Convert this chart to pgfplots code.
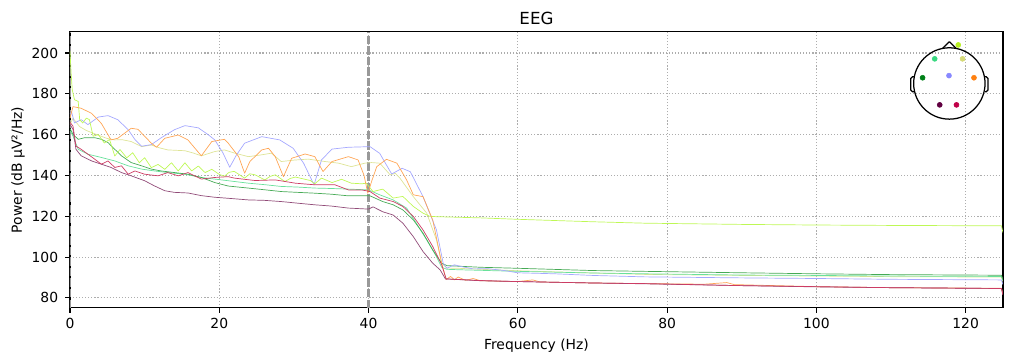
\documentclass[border=0pt]{standalone}
\usepackage{pgfplots}
\pgfplotsset{compat=1.18}
\usepackage{fontspec}
\setmainfont{DejaVu Sans}

\definecolor{cLime}{RGB}{190,248,85}
\definecolor{cKhaki}{RGB}{222,228,150}
\definecolor{cMint}{RGB}{105,225,155}
\definecolor{cGreen}{RGB}{70,170,85}
\definecolor{cBlue}{RGB}{165,168,255}
\definecolor{cOrange}{RGB}{255,165,85}
\definecolor{cPurple}{RGB}{145,75,120}
\definecolor{cRed}{RGB}{205,60,100}
\definecolor{dLime}{RGB}{184,240,32}
\definecolor{dKhaki}{RGB}{214,218,120}
\definecolor{dMint}{RGB}{56,216,128}
\definecolor{dGreen}{RGB}{0,128,24}
\definecolor{dBlue}{RGB}{136,136,255}
\definecolor{dOrange}{RGB}{255,128,16}
\definecolor{dPurple}{RGB}{96,0,64}
\definecolor{dRed}{RGB}{192,0,72}

\begin{document}
\begin{tikzpicture}
\path[use as bounding box] (-50.4pt,-38.2pt) rectangle (677.6pt,221.7pt);
\begin{axis}[
  at={(0pt,0pt)}, anchor=south west,
  scale only axis, width=671.8pt, height=198.7pt,
  xmin=0, xmax=125, ymin=75.1, ymax=210.3,
  xtick={0,20,...,120}, ytick={80,100,...,200},
  xtick pos=bottom, ytick pos=left,
  tick align=outside, major tick length=3.5pt,
  tick style={black, line width=0.8pt},
  axis line style={line width=0.8pt},
  grid=major,
  grid style={color=black!32, line width=0.8pt, dash pattern=on 0.8pt off 1.4pt},
  /pgf/number format/assume math mode=true,
  tick label style={font=\fontsize{10}{12}\selectfont},
  xticklabel style={yshift=-0.5pt},
  yticklabel style={xshift=-1.5pt},
  title={EEG},
  title style={at={(axis description cs:0.5,1)}, anchor=center, yshift=4pt, font=\fontsize{12}{14}\selectfont},
  xlabel={Frequency (Hz)},
  xlabel style={at={(axis description cs:0.5,0)}, anchor=center, yshift=-27.5pt, font=\fontsize{10}{12}\selectfont},
  ylabel={Power (dB µV²/Hz)},
  ylabel style={at={(axis description cs:-0.0557,0.5)}, anchor=center, font=\fontsize{10}{12}\selectfont},
  no markers,
  every axis plot/.append style={line width=0.5pt, line join=round},
]
% filter lines
\addplot[black!40, line width=1.6pt, dash pattern=on 6pt off 1.6pt, forget plot] coordinates {(0,75.1) (0,210.3)};
\addplot[black!40, line width=1.6pt, dash pattern=on 6pt off 1.6pt, forget plot] coordinates {(40,75.1) (40,210.3)};

% khaki
\addplot[cKhaki] coordinates {(0,165)(0.4,168)(1.3,163.9)(2.2,162)(3.1,160.7)(4.9,158.2)(6,157.4)(7,157.5)(8.2,156.6)(9.6,154.1)(10.9,154.9)(12,153.5)(13.1,152.5)(15.4,152.1)(16.5,151)(17.6,149.6)(19.4,151.7)(20.7,152.5)(22,151)(23.9,149.2)(25.5,150)(27,150.9)(28.3,146.8)(30,147.5)(31.9,148)(34.2,146.8)(36,146)(37.7,144.3)(39.5,146)(40.4,146.3)(41.5,146)(42.9,140.3)(43.6,141)(44.2,138.7)(46,129.6)(47.8,121.5)(49.1,108.4)(49.8,97)(50.5,94.6)(52,94.5)(55,94)(60,93.3)(70,92.2)(77,91.5)(90,91)(100,90.7)(110,90.4)(124.8,90.2)(125,88)};
% mint
\addplot[cMint] coordinates {(0,162)(0.4,159.3)(1.1,152.8)(2.4,150.4)(4.2,148.8)(6,147.1)(7.8,144.7)(9.6,143.1)(11.3,142.2)(13.1,141.4)(15.4,140.6)(17.6,139)(19.4,138.2)(21.2,137.4)(23.9,136.2)(26,135.5)(28.3,134.6)(30.5,134.3)(32.8,133.8)(35,133.6)(37.3,133.3)(40,132.9)(41.5,130.5)(43.3,128)(45.1,124)(46.4,116.6)(47.8,108.4)(49.1,100.2)(49.8,95)(50.5,94)(52,93.8)(55,93.5)(60,93)(70,92.2)(77,91.8)(90,91.2)(100,91)(110,90.7)(124.8,90.5)(125,88.5)};
% dark green
\addplot[cGreen] coordinates {(0,163)(0.4,160.1)(1.1,157.7)(2,158.5)(3.3,158.5)(4.2,157.7)(5.1,156.1)(6,152.8)(6.9,149.6)(8.2,146.3)(9.6,144.7)(10.9,143.1)(12.2,142.2)(14,141.4)(15.8,140.6)(17.6,139)(19.4,136.5)(21.2,134.8)(23.9,133.8)(26,133)(28.3,132.1)(30.5,131.7)(32.8,131.3)(35,130.8)(37.3,130)(40.2,130)(41.9,127.2)(43.3,125.6)(44.6,123.1)(46,118.2)(47.3,111.7)(48.6,103.5)(49.8,97)(50.5,95.8)(55,95)(60,94.5)(70,93.4)(77,93)(90,92.3)(100,91.8)(110,91.4)(124.8,91.1)(125,89)};
% blue
\addplot[cBlue] coordinates {(0,170)(0.2,171.3)(0.6,165.7)(1.5,167.3)(2.4,164.9)(3.8,168.6)(5.1,169.3)(6.4,167.3)(7.8,162.4)(8.7,157.6)(9.6,154.3)(10.9,155.1)(12.2,158.4)(14,162.4)(15.4,164.4)(17.2,163.3)(18.5,160)(19.4,157.4)(20.5,151)(21.4,144)(22.3,150)(23.4,155.8)(25.7,159)(28.1,157.4)(29.9,153.3)(31.3,146)(32.7,135.4)(33.7,147.6)(35.1,152.9)(37.3,153.8)(40.2,154.1)(41.5,150.8)(43.1,140.7)(44.5,143.5)(45.6,141.8)(47.3,129.6)(49.1,113.3)(50,97)(50.5,94.5)(51.5,96.2)(52.5,95.3)(54,94.2)(56,94.3)(58,93.5)(60,92.3)(65,91.8)(70,91)(77,90.3)(90,89.8)(100,89.5)(110,89.1)(124.8,88.8)(125,86.5)};
% lime
\addplot[cLime] coordinates {(0,201)(0.15,190)(0.3,182)(0.6,177.1)(1.1,176.3)(1.3,167.3)(1.7,165.7)(2.2,168.1)(2.6,167.3)(3.1,159.2)(3.8,160)(4.6,155.9)(5.3,157.6)(6,149.5)(6.7,152.7)(7.6,148.6)(8.4,151.1)(9.3,146.2)(10,148.7)(10.9,143.8)(11.8,145.4)(12.7,143)(13.6,146.2)(14.5,142.2)(15.4,146.2)(16.3,142.2)(17.2,144.6)(18.1,141.4)(19,143)(20,140.5)(20.7,139.6)(21.3,141.5)(22,142)(23.4,138.7)(24.1,140.8)(24.8,140.3)(26.1,137.8)(26.8,139.5)(27.5,140.3)(28.8,137)(29.5,138.5)(30.2,139.2)(31.5,138.1)(32.2,137.5)(32.8,135.9)(33.7,138.7)(35.1,136.5)(36.4,138.1)(37.7,136.2)(39.1,135.9)(39.7,136.2)(40.6,132.1)(41.9,133.3)(43.3,128.9)(44.6,129.7)(46,124.8)(47.3,121.5)(48.2,120)(49,119.8)(50,119.7)(55,119.2)(60,118.5)(70,117.3)(77,116.6)(90,116)(100,115.7)(110,115.5)(124.8,115.3)(125,112)};
% orange
\addplot[cOrange] coordinates {(0,168)(0.4,173.7)(1.5,172.9)(2.9,170.4)(4.2,165.5)(5.5,157.4)(6.4,158.2)(8.2,163.1)(9.1,162.6)(10.9,155.8)(11.6,153.8)(12.7,158.2)(14.5,159.8)(15.8,157.4)(17.6,149.6)(19,156.6)(20.7,157.7)(21.2,155.8)(22.6,149.2)(23.4,141.1)(24.1,146.8)(25.7,152.5)(26.6,153.3)(27.5,149.2)(28.6,139.4)(29.7,148.4)(31.5,150.5)(32.8,149.2)(33.9,141.9)(35.1,146.8)(37.3,149.2)(38.6,147.6)(39.4,140)(39.9,131.3)(40.5,138)(41.1,144.3)(42.4,147.9)(43.8,146)(45.1,137.8)(46,130.5)(47.3,129.6)(48.6,118.2)(49.8,97)(50.4,89)(51,90.5)(51.5,88.8)(52,90.2)(53,88.6)(54,89.5)(55,88.4)(57,88.2)(60,88)(62,88.8)(63,87.8)(70,87.3)(77,87)(85,86.7)(88,87.5)(89,86.5)(100,85.5)(110,85)(124.8,84.7)(125,82)};
% purple
\addplot[cPurple] coordinates {(0,165)(0.4,162.6)(0.8,152.8)(1.5,149.6)(2.9,147.1)(4.2,145.5)(5.5,143.9)(6.9,141.4)(8.2,139.8)(10,137.4)(11.3,134.9)(12.7,132.5)(14,131.7)(15.8,131.4)(17.6,130.1)(19.4,129.3)(21.2,128.8)(23.9,128)(26,127.8)(28.3,127.2)(30.5,126.4)(32.8,125.6)(35,125)(37.3,124)(40,123.5)(40.6,124.6)(41.9,122.2)(43.3,120.6)(44.6,116.6)(46,110)(47.3,102.7)(48.6,97)(49.6,93.7)(50.3,89.3)(55,88.4)(60,88)(70,87.3)(77,86.9)(90,86)(100,85.4)(110,85)(124.8,84.6)(125,81.5)};
% crimson
\addplot[cRed] coordinates {(0,166)(0.4,164.2)(0.8,154.4)(1.5,152.8)(2.4,150.4)(3.3,148)(4.2,145.5)(5.1,147.1)(6,143.9)(6.9,144.7)(7.8,140.6)(8.7,142.2)(10,140.6)(11.8,139.8)(13.1,141.4)(14.5,139.8)(15.8,141.4)(17.6,138.2)(19.4,139)(21.2,139.4)(22,138.7)(24.8,137.5)(27.5,137.8)(30.2,136.2)(32.8,135.4)(35.5,135.4)(37.3,132.9)(39.1,132.9)(40.2,132.1)(41.5,128.9)(43.3,127.2)(44.6,124.8)(46,119.9)(47.3,113.3)(48.6,105.2)(49.8,96.2)(50.4,89.3)(55,88.5)(60,88)(70,87.3)(77,87)(90,86)(100,85.5)(110,85)(124.8,84.6)(125,81.5)};
\end{axis}

% sensor-location inset
\begin{axis}[
  at={(633.2pt,161.6pt)}, anchor=center,
  hide axis, scale only axis, width=66.8pt, height=66.8pt,
  xmin=-1.3, xmax=1.3, ymin=-1.3, ymax=1.3, clip=false,
  every axis plot/.append style={only marks, mark=*, mark size=1.8pt},
]
\draw[line width=0.9pt] (axis cs:0,0) circle[radius=25.7pt];
\draw[line width=0.9pt, line join=round] (axis cs:-0.19,0.982) -- (axis cs:0,1.17) -- (axis cs:0.19,0.982);
\draw[line width=0.9pt, rounded corners=1.2pt] (axis cs:-0.995,0.19) -- (axis cs:-1.08,0.19) -- (axis cs:-1.08,-0.23) -- (axis cs:-0.995,-0.23);
\draw[line width=0.9pt, rounded corners=1.2pt] (axis cs:0.995,0.19) -- (axis cs:1.08,0.19) -- (axis cs:1.08,-0.23) -- (axis cs:0.995,-0.23);
\addplot[color=dLime, mark options={draw=dLime, fill=dLime}] coordinates {(0.25,1.08)};
\addplot[color=dKhaki, mark options={draw=dKhaki, fill=dKhaki}] coordinates {(0.37,0.69)};
\addplot[color=dMint, mark options={draw=dMint, fill=dMint}] coordinates {(-0.41,0.69)};
\addplot[color=dGreen, mark options={draw=dGreen, fill=dGreen}] coordinates {(-0.75,0.16)};
\addplot[color=dBlue, mark options={draw=dBlue, fill=dBlue}] coordinates {(-0.01,0.22)};
\addplot[color=dOrange, mark options={draw=dOrange, fill=dOrange}] coordinates {(0.69,0.16)};
\addplot[color=dPurple, mark options={draw=dPurple, fill=dPurple}] coordinates {(-0.27,-0.60)};
\addplot[color=dRed, mark options={draw=dRed, fill=dRed}] coordinates {(0.20,-0.60)};
\end{axis}
\end{tikzpicture}
\end{document}
